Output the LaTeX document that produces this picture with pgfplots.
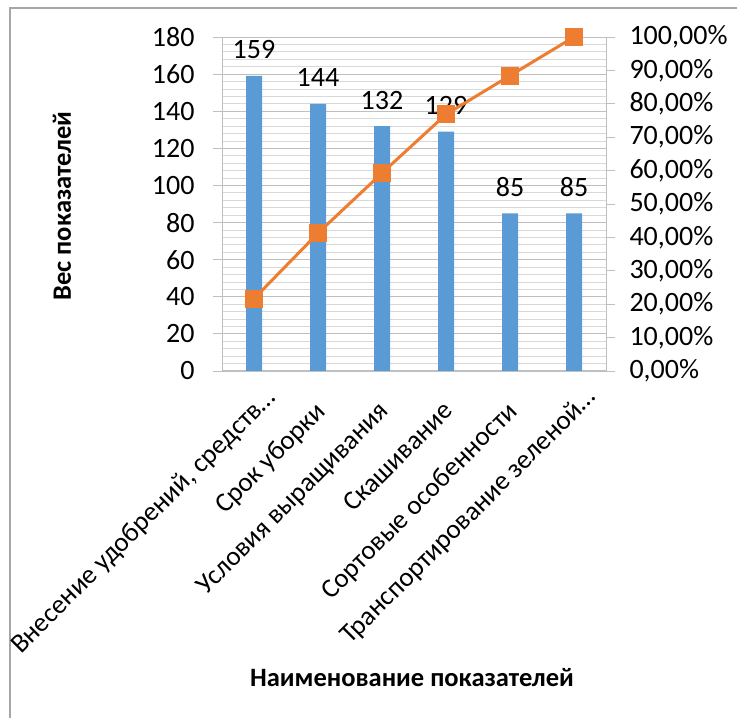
\documentclass[border=0pt]{standalone}
\usepackage{fontspec}
\setmainfont{Carlito}
\usepackage{pgfplots}
\pgfplotsset{compat=1.18}
\definecolor{barblue}{HTML}{5B9BD5}
\definecolor{lineor}{HTML}{ED7D31}
\definecolor{gridmaj}{HTML}{BFBFBF}
\definecolor{gridmin}{HTML}{D9D9D9}
\newcommand{\tfont}{\fontsize{28bp}{32bp}\selectfont}
\newcommand{\xfont}{\fontsize{27bp}{31bp}\selectfont}
\newcommand{\afont}{\fontsize{26.5bp}{30bp}\selectfont\bfseries}
\begin{document}
\begin{tikzpicture}[x=1bp,y=1bp]
\useasboundingbox (0,0) rectangle (737,718);
\draw[color=gray!70, line width=2bp] (10,-5) -- (10,710) -- (745,710);
\begin{axis}[
  at={(222bp,347bp)}, anchor=south west,
  scale only axis, width=384bp, height=334bp,
  xmin=-0.5, xmax=5.5, ymin=0, ymax=180,
  ytick={0,20,...,180}, minor y tick num=4,
  ymajorgrids, yminorgrids,
  major grid style={color=gridmaj, line width=0.8bp},
  minor grid style={color=gridmin, line width=0.8bp},
  axis x line*=bottom, axis y line*=left,
  axis line style={color=gridmaj, line width=1bp, -},
  tick align=outside,
  major tick length=9bp, minor tick length=0pt,
  tick style={color=gridmaj, line width=0.8bp},
  xtick={0,1,2,3,4,5},
  x tick style={draw=none},
  xticklabels={{Внесение удобрений, средств…\hspace*{-20bp}},{Срок уборки},{Условия выращивания},{Скашивание},{Сортовые особенности},{Транспортирование зеленой…\hspace*{-20bp}}},
  x tick label style={rotate=45, anchor=north east, font=\xfont, inner sep=0bp, yshift=-11bp, xshift=-17bp},
  y tick label style={font=\tfont, xshift=-15bp},
  /pgf/number format/assume math mode=true,
  clip=false,
]
\addplot[ybar, bar width=16bp, fill=barblue, draw=none,
  nodes near coords,
  every node near coord/.append style={font=\tfont, anchor=center, yshift=26bp, text=black}]
  coordinates {(0,159) (1,144) (2,132) (3,129) (4,85) (5,85)};
\end{axis}
\begin{axis}[
  at={(222bp,347bp)}, anchor=south west,
  scale only axis, width=384bp, height=334bp,
  xmin=-0.5, xmax=5.5, ymin=0, ymax=1,
  axis x line=none, axis y line*=right,
  axis line style={color=gridmaj, line width=1bp, -},
  tick align=outside, major tick length=9bp,
  tick style={color=gridmaj, line width=0.8bp},
  ytick={0,0.1,0.2,0.3,0.4,0.5,0.6,0.7,0.8,0.9,1},
  yticklabels={{0,00\%},{10,00\%},{20,00\%},{30,00\%},{40,00\%},{50,00\%},{60,00\%},{70,00\%},{80,00\%},{90,00\%},{100,00\%}},
  y tick label style={font=\tfont, xshift=11bp},
  clip=false,
]
\addplot[color=lineor, line width=3bp, mark=square*, mark size=7.5bp, mark options={fill=lineor, draw=lineor}]
  coordinates {(0,0.2166) (1,0.4128) (2,0.5926) (3,0.7684) (4,0.8842) (5,1.0)};
\end{axis}
\node[font=\afont, anchor=center, rotate=90] at (62,512) {Вес показателей};
\node[font=\afont, anchor=center] at (412,40) {Наименование показателей};
\end{tikzpicture}
\end{document}
